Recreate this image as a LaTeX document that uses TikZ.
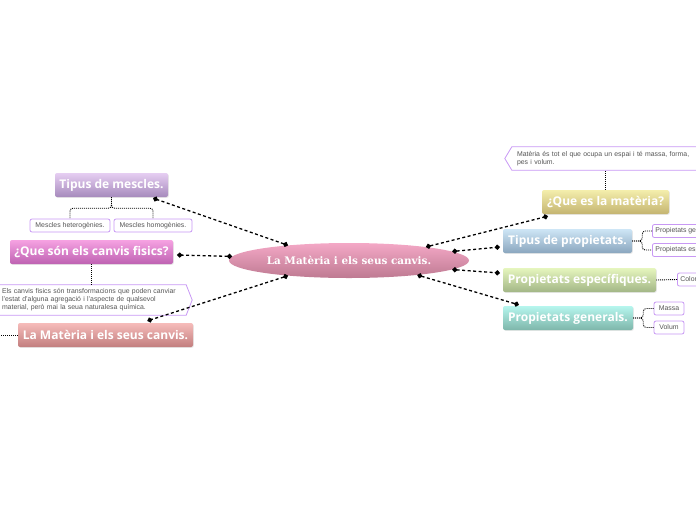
\documentclass[tikz,border=0pt]{standalone}
\usepackage{fontspec}
\setmainfont{Liberation Sans}
\newfontfamily\topicfont{Open Sans}
\newfontfamily\rootfont{DejaVu Serif}
\usetikzlibrary{shapes.geometric, arrows.meta, calc, shadows}

\definecolor{rootTop}{HTML}{F4A8C6}
\definecolor{rootBot}{HTML}{BE7A92}
\definecolor{mesclesTop}{HTML}{E6CEF2}
\definecolor{mesclesBot}{HTML}{A68ABC}
\definecolor{fisicsTop}{HTML}{F6A2E2}
\definecolor{fisicsBot}{HTML}{BE62B2}
\definecolor{canvisTop}{HTML}{F6BCBA}
\definecolor{canvisBot}{HTML}{C27E7E}
\definecolor{quesTop}{HTML}{F4EEAC}
\definecolor{quesBot}{HTML}{C4B470}
\definecolor{tpropTop}{HTML}{CEE6F6}
\definecolor{tpropBot}{HTML}{8AA6BE}
\definecolor{especTop}{HTML}{E6F6BE}
\definecolor{especBot}{HTML}{A2B686}
\definecolor{genTop}{HTML}{B6F6EE}
\definecolor{genBot}{HTML}{7EB6AA}
\definecolor{leafLine}{HTML}{C898F4}
\definecolor{leafText}{HTML}{555555}

\begin{document}
\begin{tikzpicture}[x=1pt, y=-1pt,
  root/.style={ellipse, minimum width=240pt, minimum height=35pt, inner sep=0pt,
    top color=rootTop, bottom color=rootBot, text=white,
    font=\rootfont\bfseries\fontsize{10.4}{12}\selectfont},
  topic/.style={rectangle, rounded corners=2pt, minimum height=24pt, inner sep=0pt,
    text=white, font=\topicfont\bfseries\fontsize{12}{14}\selectfont,
    drop shadow={opacity=0.18, shadow xshift=0.8pt, shadow yshift=-0.8pt}},
  leaf/.style={rectangle, draw=leafLine, line width=0.8pt, fill=white, rounded corners=2pt,
    minimum height=13pt, inner xsep=3pt, inner ysep=0pt, text=leafText,
    font=\fontsize{6.9}{8}\selectfont},
  note/.style={inner ysep=0pt, align=left, text=leafText,
    font=\fontsize{6.9}{8}\selectfont},
  noteline/.style={draw=leafLine, line width=0.8pt},
  link/.style={{Circle[length=5pt]}-{Circle[length=5pt]}, line width=1.3pt,
    dash pattern=on 3pt off 2.5pt},
  branch/.style={line width=0.9pt, dash pattern=on 1pt off 1pt, rounded corners=3pt}
]
\useasboundingbox (0,0) rectangle (696,520);
\clip (0,0) rectangle (696,520);

% Nodes
\node[root] (root) at (349,260.5) {La Matèria i els seus canvis.};

\node[topic, top color=mesclesTop, bottom color=mesclesBot, minimum width=113pt] (mescles) at (111.5,185) {Tipus de mescles.};
\node[leaf, minimum width=80pt] (het) at (70,225.5) {Mescles heterogènies.};
\node[leaf, minimum width=78pt] (hom) at (153,225.5) {Mescles homogènies.};
\node[topic, top color=fisicsTop, bottom color=fisicsBot, minimum width=163pt] (fisics) at (91.5,252) {¿Que són els canvis fisics?};
\node[note, text width=180pt, inner xsep=4pt, minimum height=30pt] (descl) at (92,300)
  {Els canvis fisics són transformacions que poden canviar\\l'estat d'alguna agregació i l'aspecte de qualsevol\\material, però mai la seua naturalesa química.};
\node[topic, top color=canvisTop, bottom color=canvisBot, minimum width=175pt] (canvis) at (105.5,335) {La Matèria i els seus canvis.};
\coordinate (lend) at (-2,335);

\node[note, text width=178pt, inner xsep=5pt, minimum height=23pt] (descr) at (606,158.5)
  {Matèria és tot el que ocupa un espai i té massa, forma,\\pes i volum.};
\node[topic, top color=quesTop, bottom color=quesBot, minimum width=127pt] (ques) at (605.5,202) {¿Que es la matèria?};
\node[topic, top color=tpropTop, bottom color=tpropBot, minimum width=129pt] (tprop) at (567.5,241) {Tipus de propietats.};
\node[leaf, anchor=west] (pge) at (652,231) {Propietats generals};
\node[leaf, anchor=west] (pes) at (652,250) {Propietats específiques};
\node[topic, top color=especTop, bottom color=especBot, minimum width=153pt] (espec) at (579.5,280) {Propietats específiques.};
\node[leaf, anchor=west] (colo) at (677,279.5) {Color};
\node[topic, top color=genTop, bottom color=genBot, minimum width=130pt] (generals) at (568,318) {Propietats generals.};
\node[leaf, minimum width=30pt] (massa) at (669,308.5) {Massa};
\node[leaf, minimum width=30pt] (volum) at (669,327.5) {Volum};

% Note outlines
\draw[noteline] (descl.north west) -- (descl.north east) -- ($(descl.east)+(6,0)$)
  -- (descl.south east) -- (descl.south west) -- cycle;
\draw[noteline] (descr.north east) -- (descr.north west) -- ($(descr.west)+(-7,0)$)
  -- (descr.south west) -- (descr.south east) -- cycle;

% Arrows
\draw[link] (root.166) -- ($(mescles.south east)+(-15,1)$);
\draw[link] (root.178) -- ($(fisics.east)+(4,3)$);
\draw[link] (root.194) -- ($(canvis.north)+(42,-2)$);
\draw[link] (root.10) -- ($(ques.south west)+(6,2)$);
\draw[link] (root.5) -- ($(tprop.west)+(-3,6)$);
\draw[link] (root.355) -- ($(espec.west)+(-3,-7)$);
\draw[link] (root.348) -- ($(generals.north west)+(16,-1)$);

\draw[branch] (mescles.south) -- ++(0,11) -| (het.north);
\draw[branch] (mescles.south) -- ++(0,11) -| (hom.north);
\draw[branch] (fisics.south) -- (fisics.south |- descl.north);
\draw[branch] (canvis.west) -- (lend);
\draw[branch] (ques.north) -- (ques.north |- descr.south);
\draw[branch] (tprop.east) -- ++(10,0) |- (pge.west);
\draw[branch] (tprop.east) -- ++(10,0) |- (pes.west);
\draw[branch] (espec.east) -- (colo.west);
\draw[branch] (generals.east) -- ++(10,0) |- (massa.west);
\draw[branch] (generals.east) -- ++(10,0) |- (volum.west);

\end{tikzpicture}
\end{document}
